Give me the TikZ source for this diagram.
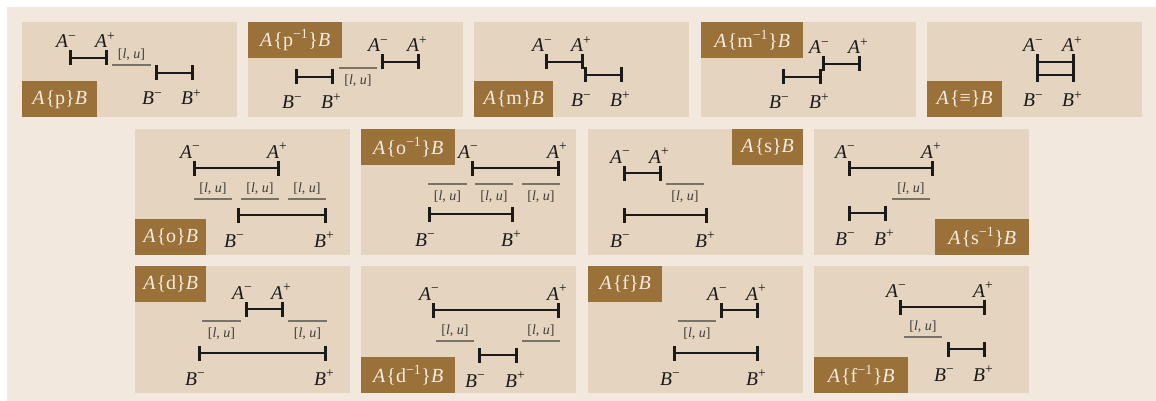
\documentclass[tikz,border=0pt]{standalone}
\usepackage{fontspec}
\setmainfont{Liberation Serif}
\usetikzlibrary{arrows.meta,calc}
\definecolor{outerbg}{HTML}{F2E8DE}
\definecolor{panelbg}{HTML}{E4D4C0}
\definecolor{labbg}{HTML}{9A7139}
\definecolor{labfg}{HTML}{F5ECDF}
\definecolor{gapc}{HTML}{7A7267}
\definecolor{gapt}{HTML}{403D38}
\definecolor{ink}{HTML}{1A1A1A}
\newcommand\ivlA[4]{%
  \coordinate (#1l) at (#2,#4);
  \coordinate (#1r) at (#3,#4);
  \draw[ivl] (#1l) -- (#1r);
  \node[ept] (#1lt) at ([xshift=-13pt,yshift=10pt]#1l) {\textit{A}\textsuperscript{−}};
  \node[ept] (#1rt) at ([xshift=-13pt,yshift=10pt]#1r) {\textit{A}\textsuperscript{+}};
}
\newcommand\ivlB[4]{%
  \coordinate (#1l) at (#2,#4);
  \coordinate (#1r) at (#3,#4);
  \draw[ivl] (#1l) -- (#1r);
  \node[ept] (#1lt) at ([xshift=-13pt,yshift=-32pt]#1l) {\textit{B}\textsuperscript{−}};
  \node[ept] (#1rt) at ([xshift=-13pt,yshift=-32pt]#1r) {\textit{B}\textsuperscript{+}};
}
\newcommand\gapU[4]{%
  \coordinate (#1l) at (#2,#4);
  \coordinate (#1r) at (#3,#4);
  \draw[gapline] (#1l) -- (#1r);
  \node[gapl] (#1t) at ($(#1l)!0.5!(#1r)+(0,-10.5)$) {[\textit{l}, \textit{u}]};
}
\newcommand\gapD[4]{%
  \coordinate (#1l) at (#2,#4);
  \coordinate (#1r) at (#3,#4);
  \draw[gapline] (#1l) -- (#1r);
  \node[gapl] (#1t) at ($(#1l)!0.5!(#1r)+(0,13)$) {[\textit{l}, \textit{u}]};
}
\begin{document}
\begin{tikzpicture}[x=1pt,y=-1pt,
  panel/.style={fill=panelbg, draw=none, inner sep=0, minimum width=215pt, anchor=north west},
  labbox/.style={fill=labbg, text=labfg, inner sep=0, anchor=north west, minimum height=36pt, font=\fontsize{20}{22}\selectfont},
  ivl/.style={draw=ink, line width=2.6pt, {Bar[width=15pt]}-{Bar[width=15pt]}},
  ept/.style={inner sep=0, anchor=base west, text=ink, font=\fontsize{19.5}{22}\selectfont},
  gapline/.style={draw=gapc, line width=1.3pt},
  gapl/.style={inner sep=0, text=gapt, font=\fontsize{14}{16}\selectfont}]
\useasboundingbox (0,0) rectangle (1156,401);
\fill[outerbg] (7,7) rectangle (1156,401);
% row 1 panels
\node[panel, minimum height=95pt] (P1) at (22,22) {};
\node[panel, minimum height=95pt] (P2) at (248,22) {};
\node[panel, minimum height=95pt] (P3) at (474,22) {};
\node[panel, minimum height=95pt] (P4) at (701,22) {};
\node[panel, minimum height=95pt] (P5) at (927,22) {};
% row 2 panels
\node[panel, minimum height=126pt] (P6) at (135,129) {};
\node[panel, minimum height=126pt] (P7) at (361,129) {};
\node[panel, minimum height=126pt] (P8) at (588,129) {};
\node[panel, minimum height=126pt] (P9) at (814,129) {};
% row 3 panels
\node[panel, minimum height=127pt] (P10) at (135,266) {};
\node[panel, minimum height=127pt] (P11) at (361,266) {};
\node[panel, minimum height=127pt] (P12) at (588,266) {};
\node[panel, minimum height=127pt] (P13) at (814,266) {};
% relation labels
\node[labbox, minimum width=75pt] (L1) at (22,81) {\textit{A}\kern1pt\{p\}\textit{B}};
\node[labbox, minimum width=94pt] (L2) at (248,22) {\textit{A}\kern1pt\{p\textsuperscript{−1}\}\textit{B}};
\node[labbox, minimum width=79pt] (L3) at (474,81) {\textit{A}\kern1pt\{m\}\textit{B}};
\node[labbox, minimum width=102pt] (L4) at (701,22) {\textit{A}\kern1pt\{m\textsuperscript{−1}\}\textit{B}};
\node[labbox, minimum width=75pt] (L5) at (927,81) {\textit{A}\kern1pt\{≡\}\textit{B}};
\node[labbox, minimum width=71pt] (L6) at (135,219) {\textit{A}\kern1pt\{o\}\textit{B}};
\node[labbox, minimum width=94pt] (L7) at (361,129) {\textit{A}\kern1pt\{o\textsuperscript{−1}\}\textit{B}};
\node[labbox, minimum width=71pt] (L8) at (732,129) {\textit{A}\kern1pt\{s\}\textit{B}};
\node[labbox, minimum width=94pt] (L9) at (935,219) {\textit{A}\kern1pt\{s\textsuperscript{−1}\}\textit{B}};
\node[labbox, minimum width=71pt] (L10) at (135,266) {\textit{A}\kern1pt\{d\}\textit{B}};
\node[labbox, minimum width=94pt] (L11) at (361,357) {\textit{A}\kern1pt\{d\textsuperscript{−1}\}\textit{B}};
\node[labbox, minimum width=74pt] (L12) at (588,266) {\textit{A}\kern1pt\{f\}\textit{B}};
\node[labbox, minimum width=94pt] (L13) at (814,357) {\textit{A}\kern1pt\{f\textsuperscript{−1}\}\textit{B}};
% panel 1: p
\ivlA{aA}{69}{108}{58}
\ivlB{aB}{155}{194}{73}
\gapU{ag}{112}{151}{65}
% panel 2: p^-1
\ivlA{bA}{381}{420}{62}
\ivlB{bB}{295}{334}{77}
\gapD{bg}{339}{377}{68}
% panel 3: m
\ivlA{cA}{545}{584}{62}
\ivlB{cB}{584}{623}{75}
% panel 4: m^-1
\ivlA{dA}{822}{861}{64}
\ivlB{dB}{782}{822}{77}
% panel 5: equal
\ivlA{eA}{1036}{1075}{62}
\ivlB{eB}{1036}{1075}{75}
% panel 6: o
\ivlA{fA}{193}{280}{168}
\ivlB{fB}{237}{327}{215}
\gapU{fg1}{194}{232}{199}
\gapU{fg2}{241}{279}{199}
\gapU{fg3}{288}{326}{199}
% panel 7: o^-1
\ivlA{gA}{471}{560}{168}
\ivlB{gB}{428}{514}{214}
\gapD{gg1}{428}{467}{184}
\gapD{gg2}{475}{513}{184}
\gapD{gg3}{522}{560}{184}
% panel 8: s
\ivlA{hA}{623}{662}{173}
\ivlB{hB}{623}{708}{215}
\gapD{hg}{666}{704}{184}
% panel 9: s^-1
\ivlA{iA}{848}{934}{168}
\ivlB{iB}{848}{887}{213}
\gapU{ig}{892}{930}{199}
% panel 10: d
\ivlA{jA}{245}{284}{309}
\ivlB{jB}{198}{327}{353}
\gapD{jg1}{202}{241}{321}
\gapD{jg2}{288}{327}{321}
% panel 11: d^-1
\ivlA{kA}{432}{560}{310}
\ivlB{kB}{478}{518}{355}
\gapU{kg1}{436}{474}{341}
\gapU{kg2}{522}{560}{341}
% panel 12: f
\ivlA{lA}{720}{759}{310}
\ivlB{lB}{673}{759}{353}
\gapD{lg}{678}{716}{321}
% panel 13: f^-1
\ivlA{mA}{899}{986}{307}
\ivlB{mB}{947}{986}{349}
\gapU{mg}{904}{942}{337}
\end{tikzpicture}
\end{document}
